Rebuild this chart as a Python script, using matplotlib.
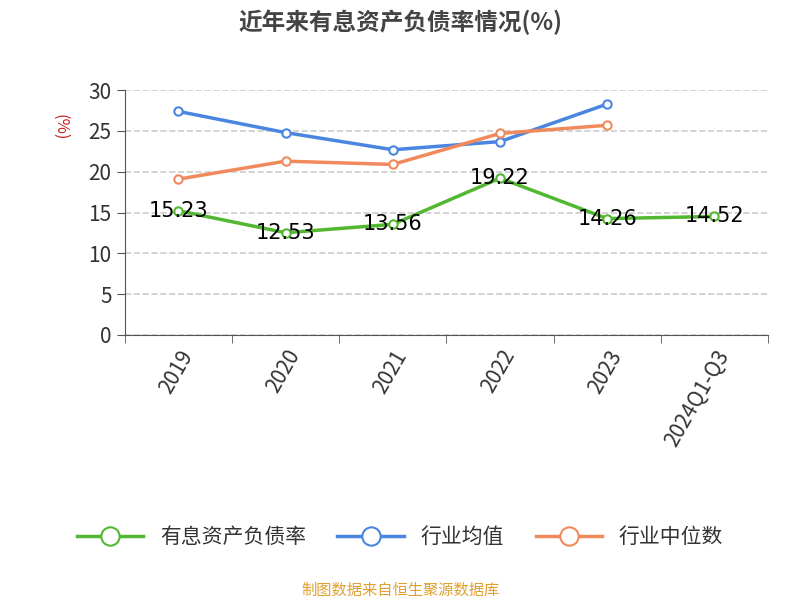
import matplotlib.pyplot as plt
import matplotlib.transforms as mtransforms
import numpy as np

plt.rcParams['font.family'] = ['Noto Sans CJK SC', 'DejaVu Sans']

categories = ['2019', '2020', '2021', '2022', '2023', '2024Q1-Q3']
debt_ratio = [15.23, 12.53, 13.56, 19.22, 14.26, 14.52]
industry_avg = [27.4, 24.8, 22.7, 23.7, 28.3]
industry_median = [19.1, 21.3, 20.9, 24.7, 25.7]

fig = plt.figure(figsize=(8, 6), dpi=100)
ax = fig.add_axes([0.156, 0.4417, 0.804, 0.408])

x = np.arange(len(categories))
mk = dict(marker='o', markersize=6, markerfacecolor='white', markeredgewidth=1.5, linewidth=2.5)
ax.plot(x, debt_ratio, color='#52b831', label='有息资产负债率', **mk)
ax.plot(x[:5], industry_avg, color='#4a86e0', label='行业均值', **mk)
ax.plot(x[:5], industry_median, color='#f08a5d', label='行业中位数', **mk)

for xi, v in zip(x, debt_ratio):
    ax.text(xi, v, f'{v:.2f}', ha='center', va='center', fontsize=15, color='black', family='DejaVu Sans')

ax.set_xlim(-0.5, 5.5)
ax.set_ylim(0, 30)
ax.set_yticks(range(0, 31, 5))
ax.set_xticks(x)
ax.set_xticklabels(categories, rotation=60, ha='right', rotation_mode='anchor', fontsize=15, color='#333333')
offset = mtransforms.ScaledTranslation(-14 / 72, 0, fig.dpi_scale_trans)
for lbl in ax.get_xticklabels():
    lbl.set_transform(lbl.get_transform() + offset)
ax.set_xticks(np.arange(-0.5, 6, 1), minor=True)
ax.tick_params(axis='x', which='major', length=0, pad=8)
ax.tick_params(axis='x', which='minor', length=6, color='#555555')
ax.tick_params(axis='y', labelsize=15, labelcolor='#333333', length=6, color='#555555')
ax.yaxis.grid(True, linestyle='--', color='#cccccc', linewidth=1.2)
for s in ['top', 'right']:
    ax.spines[s].set_visible(False)
for s in ['left', 'bottom']:
    ax.spines[s].set_color('#555555')
ax.text(-0.1, 0.85, '(%)', transform=ax.transAxes, rotation=-90, color='#cc2222',
        fontsize=12, ha='center', va='center')

fig.text(0.5, 0.962, '近年来有息资产负债率情况(%)', ha='center', va='center', fontsize=17,
         fontweight='bold', color='#444444')
fig.legend(loc='center', bbox_to_anchor=(0.5, 0.105), ncol=3, frameon=False, fontsize=15,
           handlelength=3.2, columnspacing=1.5, labelcolor='#333333', markerscale=2.2)
fig.text(0.5, 0.017, '制图数据来自恒生聚源数据库', ha='center', va='center', fontsize=11, color='#e0a030')

fig.savefig('out.png')
